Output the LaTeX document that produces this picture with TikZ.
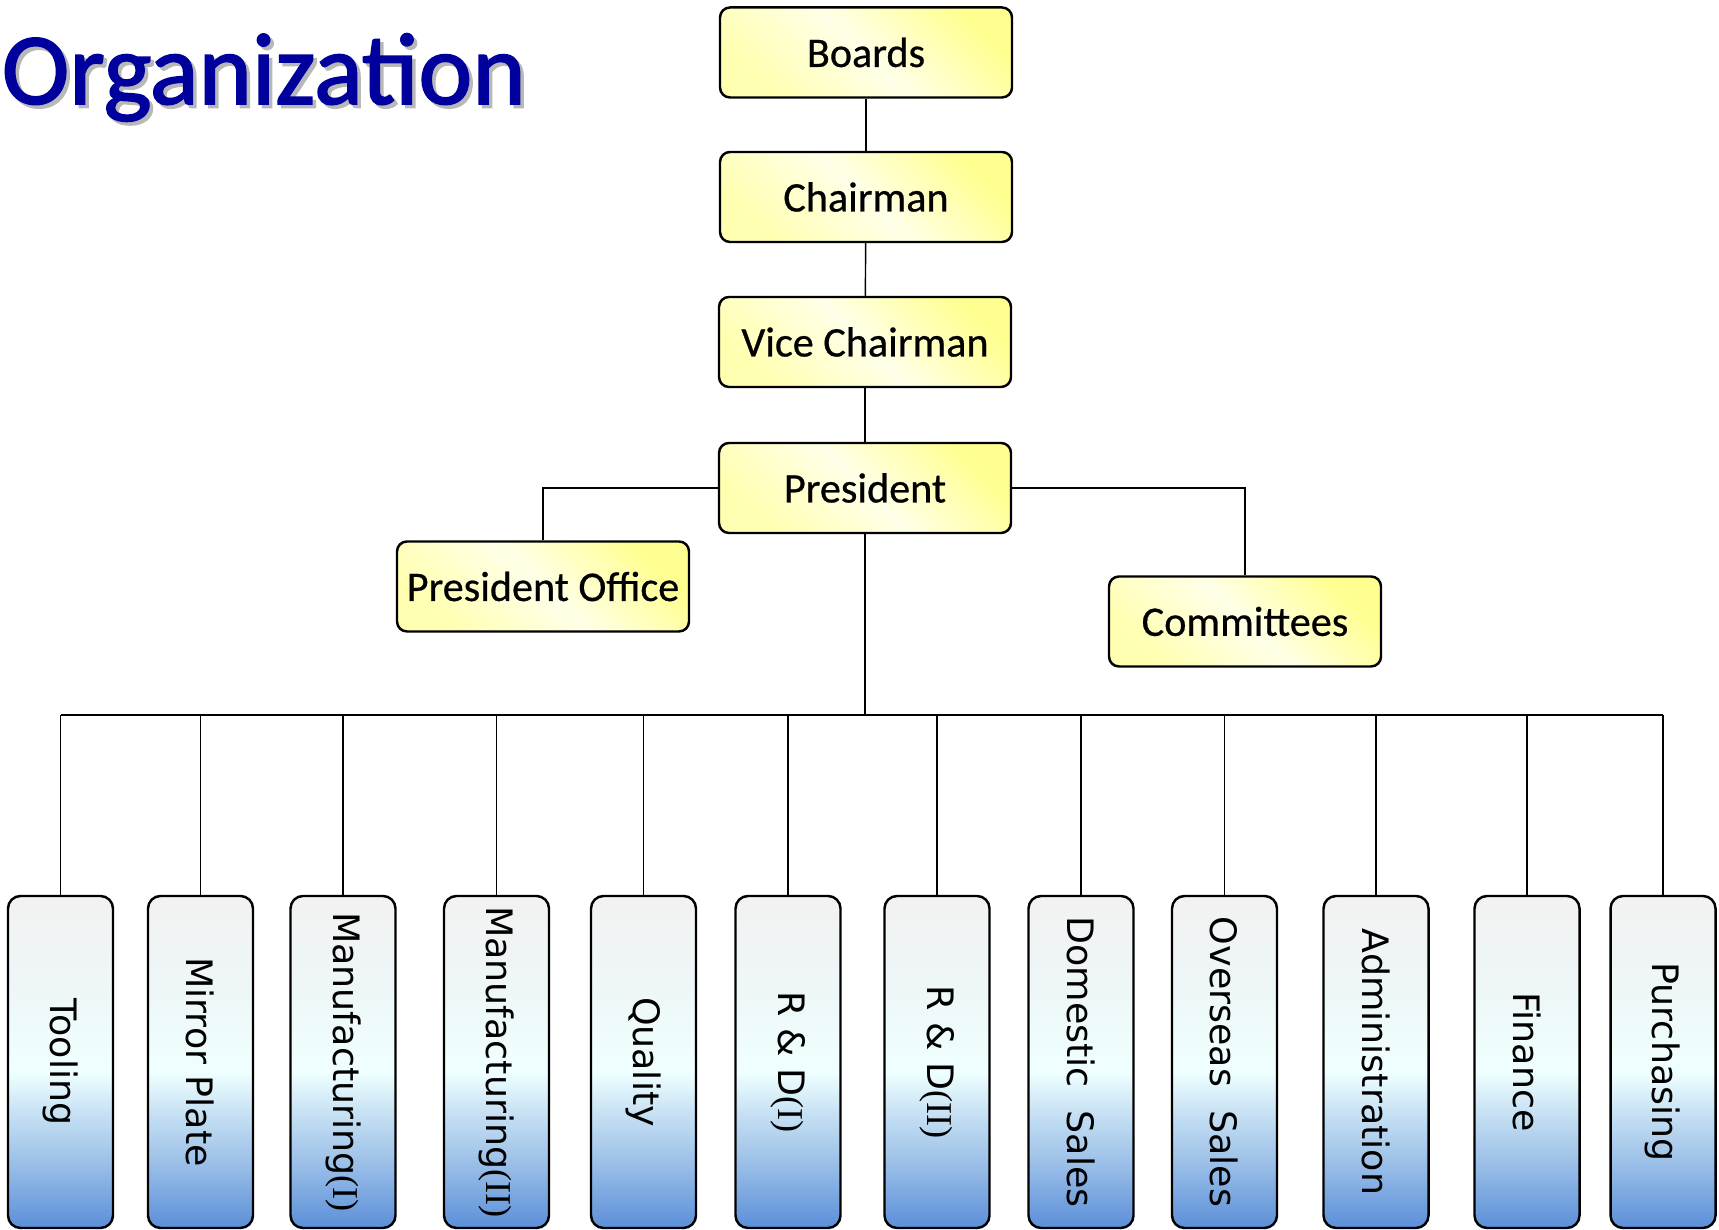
\documentclass[tikz,border=0pt]{standalone}
\usepackage{fontspec}
\setmainfont{Carlito}
\newfontfamily\headfont[FakeBold=0.6]{Carlito}
\newfontfamily\titlefont[FakeBold=1.6]{Carlito}
\newfontfamily\deptfont{DejaVu Sans}
\newfontfamily\numfont{Liberation Serif}
\definecolor{titleblue}{RGB}{0,0,156}
\definecolor{headgold}{RGB}{255,255,145}
\definecolor{headlow}{RGB}{255,255,178}
\definecolor{headpale}{RGB}{255,255,232}
\definecolor{deptbot}{RGB}{91,143,217}
\definecolor{deptlow}{RGB}{156,192,232}
\definecolor{deptmid}{RGB}{200,226,244}
\definecolor{deptwhite}{RGB}{239,255,255}
\definecolor{deptup}{RGB}{238,246,247}
\definecolor{depttop}{RGB}{242,242,242}
\pgfdeclarehorizontalshading{headshade}{100bp}{color(0bp)=(headlow); color(25bp)=(headlow); color(50bp)=(headpale); color(75bp)=(headgold); color(100bp)=(headgold)}
\pgfdeclareverticalshading{deptshade}{100bp}{color(0bp)=(deptbot); color(25bp)=(deptbot); color(35bp)=(deptlow); color(42.5bp)=(deptmid); color(48.5bp)=(deptwhite); color(62.5bp)=(deptup); color(75bp)=(depttop); color(100bp)=(depttop)}
\begin{document}
\begin{tikzpicture}[
    headbox/.style={draw, line width=1.4pt, rounded corners=0.2cm, shade, shading=headshade, shading angle=45,
      minimum width=5.84cm, minimum height=1.8cm, inner sep=0pt, font=\headfont\fontsize{24}{28}\selectfont},
    deptbox/.style={draw, line width=1.4pt, rounded corners=0.25cm, shade, shading=deptshade,
      minimum width=2.1cm, minimum height=6.64cm, inner sep=0pt, font=\deptfont\fontsize{20.7}{24}\selectfont},
    link/.style={line width=0.8pt},
    bus/.style={line width=1.3pt}
  ]
  \useasboundingbox (0,0) rectangle (34.38,24.6);

  \node[anchor=base west, inner sep=0pt, text=titleblue, font=\titlefont\fontsize{58}{60}\selectfont] (title) at (0.03,22.52)
    {\rlap{\kern0.07cm\raisebox{-0.07cm}{\textcolor{black!28}{Organization}}}Organization};

  \node[headbox] (boards) at (17.32,23.55) {Boards};
  \node[headbox] (chair) at (17.32,20.66) {Chairman};
  \node[headbox] (vice) at (17.3,17.76) {Vice Chairman};
  \node[headbox] (pres) at (17.3,14.84) {President};
  \node[headbox] (poff) at (10.86,12.87) {President Office};
  \node[headbox, minimum width=5.44cm] (comm) at (24.9,12.17) {Committees};

  \draw[link] (boards) -- (chair);
  \draw[link] (chair) -- (vice);
  \draw[link] (vice) -- (pres);
  \draw[link] (pres.west) -| (poff.north);
  \draw[link] (pres.east) -| (comm.north);

  \foreach \name/\x/\txt in {tool/1.21/Tooling, mirror/4.01/Mirror Plate,
      manfa/6.86/Manufacturing{\numfont(I)}, manfb/9.93/Manufacturing{\numfont(II)},
      qual/12.87/Quality, rda/15.76/R \& D{\numfont(I)}, rdb/18.74/R \& D{\numfont(II)},
      dom/21.62/Domestic~~Sales, over/24.49/Overseas~~Sales, admin/27.52/Administration,
      fin/30.54/Finance, purch/33.26/Purchasing}
    \node[deptbox] (\name) at (\x,3.36) {\rotatebox{-90}{\txt}};

  \coordinate (busy) at (0,10.3);
  \draw[link] (pres.south) -- (pres.south |- busy);
  \draw[bus] (tool.north |- busy) -- (purch.north |- busy);
  \foreach \name in {tool,mirror,manfa,manfb,qual,rda,rdb,dom,over,admin,fin,purch}
    \draw[link] (\name.north) -- (\name.north |- busy);
\end{tikzpicture}
\end{document}
